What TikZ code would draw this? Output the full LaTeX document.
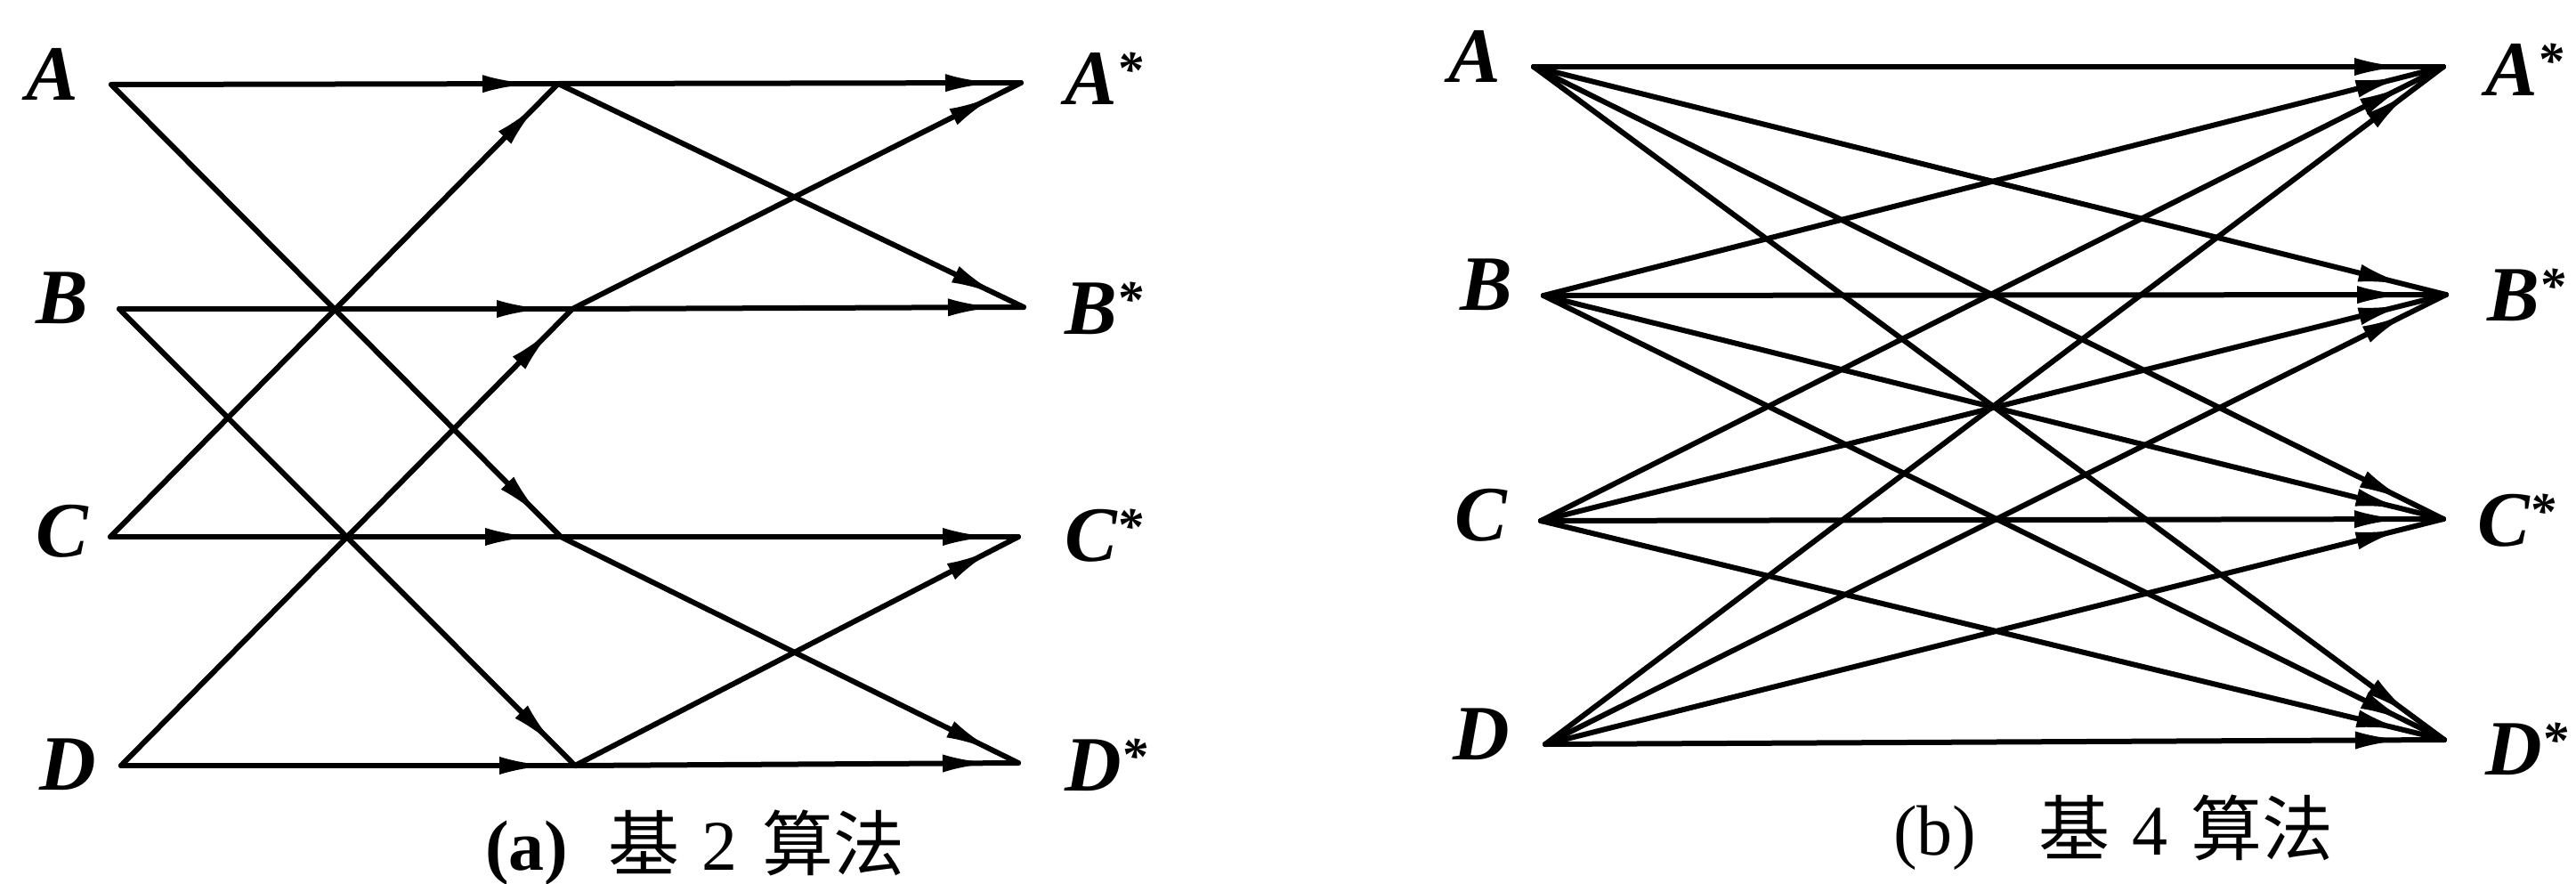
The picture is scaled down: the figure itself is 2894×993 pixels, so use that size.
\documentclass[tikz,border=0pt]{standalone}
\usepackage{fontspec}
\setmainfont{Liberation Serif}
\newfontfamily\cjk{Noto Sans CJK SC}
\usetikzlibrary{arrows.meta,decorations.markings}
\newcommand{\st}{\raisebox{20pt}{\fontsize{58pt}{58pt}\selectfont *}}
\begin{document}
\begin{tikzpicture}[x=1pt,y=-1pt,
  edge/.style={line width=6pt,line cap=round},
  tipat/.style={postaction={decorate},decoration={markings,mark=at position #1 with {\arrow{Latex[length=55pt,width=20pt]}}}},
  lab/.style={inner sep=0pt,anchor=base west,font=\fontsize{88pt}{90pt}\selectfont\bfseries\itshape},
  captext/.style={inner sep=0pt,anchor=west,font=\fontsize{80pt}{84pt}\selectfont}
]
\useasboundingbox (0,0) rectangle (2894,993);
% ---------- (a) radix-2 ----------
\coordinate (LA) at (125,95);
\coordinate (LB) at (134,347);
\coordinate (LC) at (124,603);
\coordinate (LD) at (136,860);
\coordinate (MA) at (627,94);
\coordinate (MB) at (643,347);
\coordinate (MC) at (630,603);
\coordinate (MD) at (646,860);
\coordinate (RA) at (1147,93);
\coordinate (RB) at (1150,345);
\coordinate (RC) at (1144,603);
\coordinate (RD) at (1144,857);
% stage 1
\draw[edge,tipat=-30pt] (LA) -- (MA);
\draw[edge,tipat=-30pt] (LA) -- (MC);
\draw[edge,tipat=-30pt] (LB) -- (MB);
\draw[edge,tipat=-30pt] (LB) -- (MD);
\draw[edge,tipat=-30pt] (LC) -- (MC);
\draw[edge,tipat=-30pt] (LC) -- (MA);
\draw[edge,tipat=-30pt] (LD) -- (MD);
\draw[edge,tipat=-30pt] (LD) -- (MB);
% stage 2
\draw[edge,tipat=-30pt] (MA) -- (RA);
\draw[edge,tipat=-30pt] (MA) -- (RB);
\draw[edge,tipat=-30pt] (MB) -- (RB);
\draw[edge,tipat=-30pt] (MB) -- (RA);
\draw[edge,tipat=-30pt] (MC) -- (RC);
\draw[edge,tipat=-30pt] (MC) -- (RD);
\draw[edge,tipat=-30pt] (MD) -- (RD);
\draw[edge,tipat=-30pt] (MD) -- (RC);
% labels
\node[lab] (la) at (29,112) {A};
\node[lab] (lb) at (40,363) {B};
\node[lab] (lc) at (40,625) {C};
\node[lab] (ld) at (44,887) {D};
\node[lab] (ra) at (1196,117) {A\st};
\node[lab] (rb) at (1196,375) {B\st};
\node[lab] (rc) at (1196,630) {C\st};
\node[lab] (rd) at (1196,888) {D\st};
\node[captext] (capa) at (545,952) {\textbf{(a)}\hspace{45pt}{\cjk 基}\hspace{25pt}2\hspace{28pt}{\cjk 算法}};
% ---------- (b) radix-4 ----------
\coordinate (PA) at (1723,75);
\coordinate (PB) at (1734,332);
\coordinate (PC) at (1731,585);
\coordinate (PD) at (1736,836);
\coordinate (QA) at (2745,75);
\coordinate (QB) at (2748,331);
\coordinate (QC) at (2745,583);
\coordinate (QD) at (2746,831);
\foreach \s in {A,B,C,D}{
  \foreach \t in {A,B,C,D}{
    \draw[edge,tipat=-45pt] (P\s) -- (Q\t);
  }
}
\node[lab] (pa) at (1627,92) {A};
\node[lab] (pb) at (1640,348) {B};
\node[lab] (pc) at (1634,607) {C};
\node[lab] (pd) at (1632,853) {D};
\node[lab] (qa) at (2792,107) {A\st};
\node[lab] (qb) at (2794,360) {B\st};
\node[lab] (qc) at (2783,613) {C\st};
\node[lab] (qd) at (2792,870) {D\st};
\node[captext] (capb) at (2127,935) {(b)\hspace{70pt}{\cjk 基}\hspace{25pt}4\hspace{26pt}{\cjk 算法}};
\end{tikzpicture}
\end{document}
